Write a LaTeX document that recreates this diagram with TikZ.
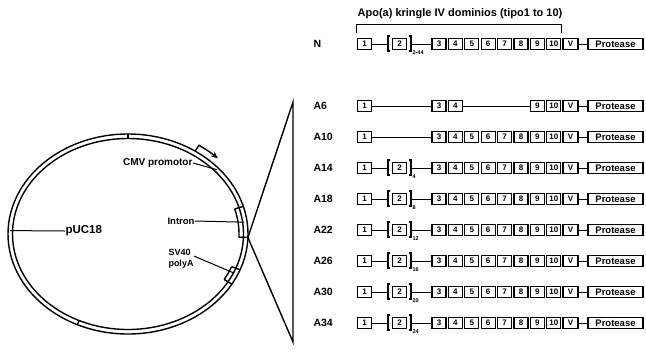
\documentclass[tikz,border=0pt]{standalone}
\usepackage{fontspec}
\setmainfont{Liberation Sans}
\usetikzlibrary{arrows.meta, positioning, calc}

\begin{document}
\begin{tikzpicture}[x=1pt, y=1pt, >=Stealth, line width=1pt,
    kbox/.style={draw, line width=1.2pt, minimum width=14pt, minimum height=11pt,
                 inner sep=0pt, font=\fontsize{8}{8}\selectfont\bfseries},
    rowlab/.style={anchor=west, inner sep=0pt, font=\fontsize{10.5}{10}\selectfont\bfseries},
    sublab/.style={anchor=north west, inner sep=0pt, font=\fontsize{5.5}{5}\selectfont\bfseries},
    plab/.style={inner sep=0pt, align=left, font=\fontsize{9.5}{11}\selectfont\bfseries},
    ring/.style={line width=1.4pt},
    brk/.style={line width=1.8pt}]

  \useasboundingbox (0,0) rectangle (646,-360);

  % plasmid
  \coordinate (C) at (128,-234);
  \draw[ring] (C) ellipse [x radius=120, y radius=100];
  \draw[ring] (C) ellipse [x radius=115.5, y radius=95.5];
  \foreach \a in {90, 245}
    \draw[ring] ([shift={(\a:115.5 and 95.5)}]C) -- ([shift={(\a:120 and 100)}]C);
  % intron and polyA segments
  \foreach \a/\b in {-2/16, -30/-21} {
    \draw[ring] ([shift={(\a:111 and 91)}]C) arc[start angle=\a, end angle=\b, x radius=111, y radius=91];
    \draw[ring] ([shift={(\a:111 and 91)}]C) -- ([shift={(\a:120 and 100)}]C);
    \draw[ring] ([shift={(\b:111 and 91)}]C) -- ([shift={(\b:120 and 100)}]C);
  }
  % promoter arrow
  \draw[ring, -{Stealth[length=7pt, width=6pt]}] ([shift={(56:120 and 100)}]C)
    -- ([shift={(56:127 and 107)}]C) arc[start angle=56, end angle=45, x radius=127, y radius=107];

  \node[plab, anchor=east, font=\fontsize{10}{11}\selectfont\bfseries] (cmv) at (193,-163) {CMV promotor};
  \coordinate (cmv-p) at ([shift={(41:118 and 98)}]C);
  \draw (cmv.east) -- (cmv-p);
  \node[plab, anchor=east] (intron) at (195,-221) {Intron};
  \coordinate (intron-p) at ([shift={(7:117 and 97)}]C);
  \draw (intron.east) -- (intron-p);
  \node[plab, anchor=west, font=\fontsize{11.5}{12}\selectfont\bfseries] (puc) at (65,-231) {pUC18};
  \coordinate (puc-p) at ([shift={(178:118 and 98)}]C);
  \draw (puc-p) -- (puc.west);
  \node[plab, anchor=north west, font=\fontsize{9}{11}\selectfont\bfseries] (sv40) at (168,-249) {SV40\\polyA};
  \coordinate (sv40-p) at ([shift={(-24:116 and 96)}]C);
  \draw ([yshift=3pt]sv40.east) -- (sv40-p);

  % zoom triangle
  \coordinate (apex) at ([shift={(-2:120 and 100)}]C);
  \coordinate (ttop) at (293,-102);
  \coordinate (tbot) at (293,-342);
  \draw[ring] (ttop) -- (apex) -- (tbot) -- cycle;

  % constructs with the repeated kringle 2
  \foreach \r/\y/\s in {N/44/2-44, A14/168/4, A18/199/8, A22/230/12, A26/261/16, A30/292/20, A34/323/24} {
    \node[rowlab] (\r-lab) at (313,-\y) {\r};
    \node[kbox] (\r-1) at (364.5,-\y) {1};
    \node[kbox] (\r-2) at (399.5,-\y) {2};
    \draw[brk] ([xshift=-1.5pt,yshift=2pt]\r-2.north west) -- ++(-2.5,0) -- ++(0,-15) -- ++(2.5,0);
    \draw[brk] ([xshift=1.5pt,yshift=2pt]\r-2.north east) -- ++(2.5,0) -- ++(0,-15) -- ++(-2.5,0);
    \coordinate (\r-lb) at ([xshift=-4pt]\r-2.west);
    \coordinate (\r-rb) at ([xshift=4pt]\r-2.east);
    \node[sublab] (\r-sub) at ([xshift=1pt,yshift=-6.5pt]\r-rb) {\s};
    \foreach \k in {3,...,10}
      \node[kbox] (\r-\k) at ({439+(\k-3)*16.4},-\y) {\k};
    \node[kbox, minimum width=15pt] (\r-V) at (570.5,-\y) {V};
    \node[kbox, minimum width=55pt, font=\fontsize{9.5}{9}\selectfont\bfseries] (\r-P) at (615.5,-\y) {Protease};
    \draw (\r-1) -- (\r-lb);
    \draw (\r-rb) -- (\r-3);
    \draw (\r-V) -- (\r-P);
  }

  % A6: kringles 1, 3, 4, 9, 10
  \node[rowlab] (A6-lab) at (313,-106) {A6};
  \foreach \k in {3,4,9,10}
    \node[kbox] (A6-\k) at ({439+(\k-3)*16.4},-106) {\k};
  \node[kbox] (A6-1) at (364.5,-106) {1};
  \node[kbox, minimum width=15pt] (A6-V) at (570.5,-106) {V};
  \node[kbox, minimum width=55pt, font=\fontsize{9.5}{9}\selectfont\bfseries] (A6-P) at (615.5,-106) {Protease};
  \draw (A6-1) -- (A6-3);
  \draw (A6-4) -- (A6-9);
  \draw (A6-V) -- (A6-P);

  % A10: no kringle 2
  \node[rowlab] (A10-lab) at (313,-137) {A10};
  \node[kbox] (A10-1) at (364.5,-137) {1};
  \foreach \k in {3,...,10}
    \node[kbox] (A10-\k) at ({439+(\k-3)*16.4},-137) {\k};
  \node[kbox, minimum width=15pt] (A10-V) at (570.5,-137) {V};
  \node[kbox, minimum width=55pt, font=\fontsize{9.5}{9}\selectfont\bfseries] (A10-P) at (615.5,-137) {Protease};
  \draw (A10-1) -- (A10-3);
  \draw (A10-V) -- (A10-P);

  % kringle IV bracket
  \node[font=\fontsize{11}{11}\selectfont\bfseries, inner sep=0pt] (title) at (460,-14) {Apo(a) kringle IV dominios (tipo1 to 10)};
  \draw ([yshift=5pt]N-1.north west) -- ++(0,8) -| ([yshift=5pt]N-10.north east);
\end{tikzpicture}
\end{document}
